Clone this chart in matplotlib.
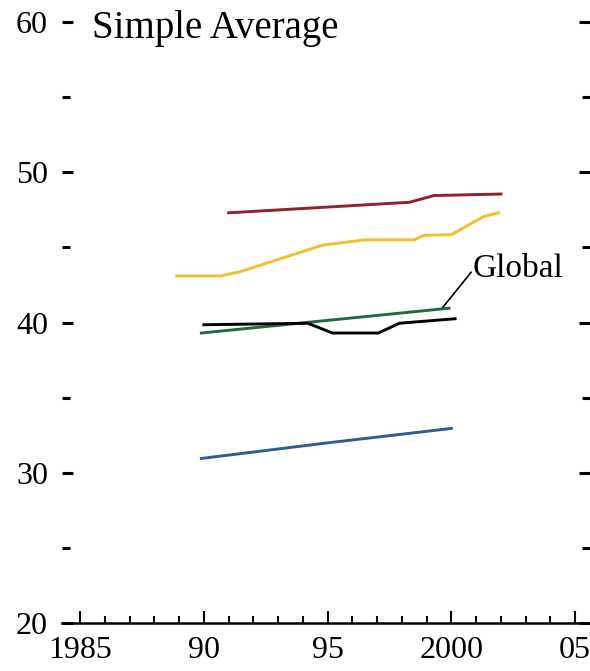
import matplotlib
matplotlib.use('Agg')
import matplotlib.pyplot as plt
from matplotlib.ticker import MultipleLocator

plt.rcParams['font.family'] = ['Liberation Serif', 'DejaVu Serif']

# values
red_years = [1991, 1998.3, 1999.3, 2002]
red_vals = [47.3, 48.0, 48.45, 48.55]

yellow_years = [1988.9, 1990.7, 1991.5, 1994.8, 1996.5, 1998.5, 1998.9, 2000.0, 2001.3, 2001.9]
yellow_vals = [43.1, 43.1, 43.4, 45.15, 45.5, 45.5, 45.8, 45.85, 47.05, 47.3]

green_years = [1989.9, 1999.9]
green_vals = [39.3, 40.95]

black_years = [1990.0, 1994.2, 1995.2, 1997.05, 1997.9, 2000.15]
black_vals = [39.85, 39.95, 39.3, 39.3, 39.95, 40.25]

blue_years = [1989.9, 1994.8, 2000.0]
blue_vals = [30.95, 31.95, 32.95]

x_ticks = [1985, 1990, 1995, 2000, 2005]
x_tick_labels = ['1985', '90', '95', '2000', '05']
y_ticks = [20, 30, 40, 50, 60]

fig = plt.figure(figsize=(5.9, 6.71), dpi=100)
ax = fig.add_axes([62 / 590, 48 / 671, 1 - 62 / 590, (623 - 22) / 671])

ax.plot(red_years, red_vals, color='#8e2328', lw=2.1)
ax.plot(yellow_years, yellow_vals, color='#efbf2c', lw=2.1)
ax.plot(green_years, green_vals, color='#1f6b3c', lw=2.1)
ax.plot(black_years, black_vals, color='black', lw=2.1)
ax.plot(blue_years, blue_vals, color='#2c5d93', lw=2.1)

# leader line + label for the global series
ax.annotate('', xy=(1999.65, 41.0), xytext=(2000.8, 43.35),
            arrowprops=dict(arrowstyle='-', color='black', lw=1.2,
                            shrinkA=0, shrinkB=0))
ax.text(2000.85, 43.55, 'Global', fontsize=24, va='center', ha='left')

ax.set_xlim(1984.27, 2005.6)
ax.set_ylim(20, 60)

for s in ['left', 'top', 'right']:
    ax.spines[s].set_visible(False)
ax.spines['bottom'].set_linewidth(1.8)

ax.set_xticks(x_ticks)
ax.set_xticklabels(x_tick_labels)
ax.xaxis.set_minor_locator(MultipleLocator(1))
ax.set_yticks(y_ticks)
ax.yaxis.set_minor_locator(MultipleLocator(5))

ax.tick_params(axis='x', which='major', direction='in', length=8.5, width=1.5,
               labelsize=23, pad=9)
ax.tick_params(axis='x', which='minor', direction='in', length=5, width=1.5)
ax.tick_params(axis='y', which='major', direction='in', length=8, width=2.2,
               labelsize=23, pad=10, left=True, right=True)
ax.tick_params(axis='y', which='minor', direction='in', length=6, width=2.2,
               left=True, right=True)

fig.text(92 / 590, 1 - 38 / 671, 'Simple Average', fontsize=28, va='baseline', ha='left')

fig.savefig('out.png', dpi=100)
